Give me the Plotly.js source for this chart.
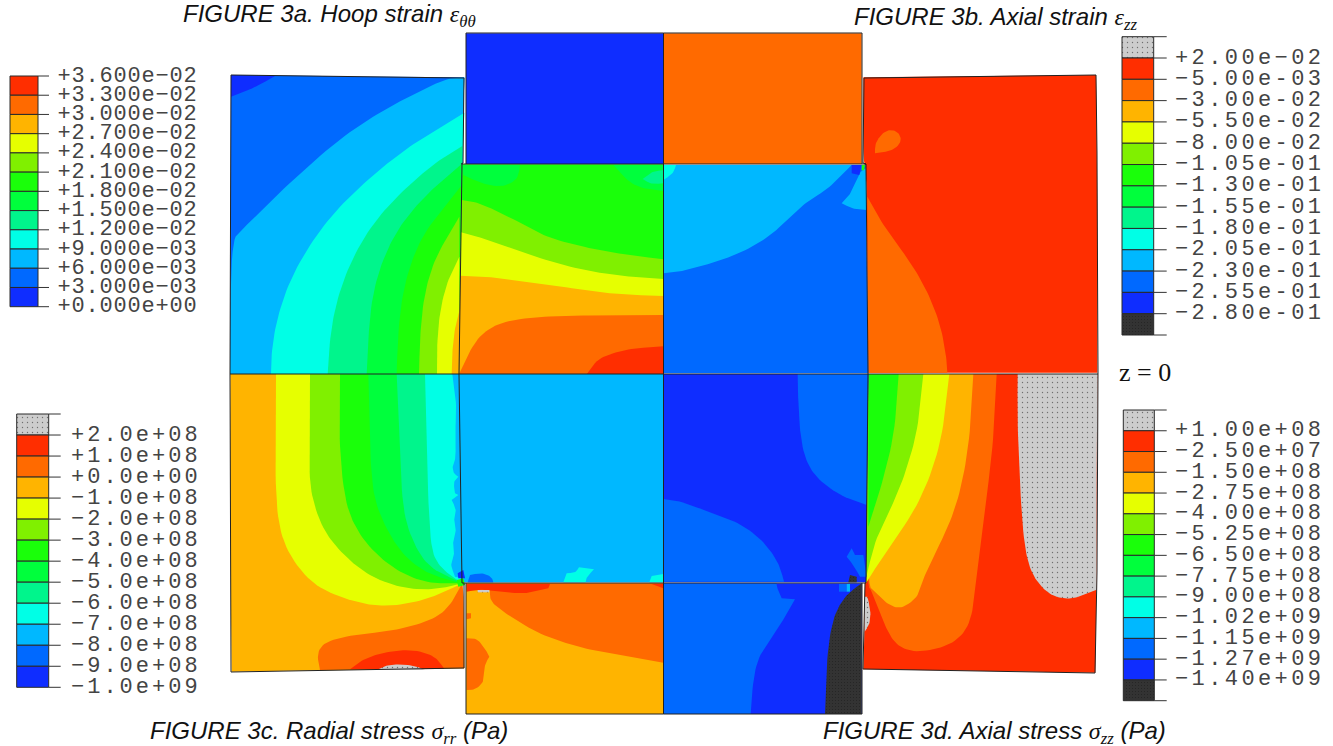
<!DOCTYPE html>
<html><head><meta charset="utf-8">
<script src="https://cdn.plot.ly/plotly-3.0.1.min.js"></script>
<style>html,body{margin:0;padding:0;background:#fff}#c{width:1333px;height:746px}</style>
</head><body><div id="c"></div>
<script>
// Spectrum colours
const R='#ff2e00',O='#ff6a00',A='#ffb400',Y='#e6ff00',L='#80f000',G='#1aff0a',H='#00ff3c',T='#00f58c',C='#00ffe6',S='#00b8ff',B='#0069ff',D='#0f2dff',K='#333333',W='#cdcdcd';

// Legend contents
const hoopLabels=['+3.600e-02','+3.300e-02','+3.000e-02','+2.700e-02','+2.400e-02','+2.100e-02','+1.800e-02','+1.500e-02','+1.200e-02','+9.000e-03','+6.000e-03','+3.000e-03','+0.000e+00'];
const hoopColors=[R,O,A,Y,L,G,H,T,C,S,B,D];
const axialLabels=['+2.00e-02','-5.00e-03','-3.00e-02','-5.50e-02','-8.00e-02','-1.05e-01','-1.30e-01','-1.55e-01','-1.80e-01','-2.05e-01','-2.30e-01','-2.55e-01','-2.80e-01'];
const axialColors=[W,R,O,A,Y,L,G,H,T,C,S,B,D,K];
const radialLabels=['+2.0e+08','+1.0e+08','+0.0e+00','-1.0e+08','-2.0e+08','-3.0e+08','-4.0e+08','-5.0e+08','-6.0e+08','-7.0e+08','-8.0e+08','-9.0e+08','-1.0e+09'];
const radialColors=[W,R,O,A,Y,L,G,H,T,C,S,B,D];
const zzLabels=['+1.00e+08','-2.50e+07','-1.50e+08','-2.75e+08','-4.00e+08','-5.25e+08','-6.50e+08','-7.75e+08','-9.00e+08','-1.02e+09','-1.15e+09','-1.27e+09','-1.40e+09'];
const zzColors=[W,R,O,A,Y,L,G,H,T,C,S,B,D,K];

// Contour regions, as [colour, x,y,x,y,...] (units: 1/3 px inside a crop)
const panelA=[
[B,18,45,240,46,420,50,718,52,712,300,703,942,15,942],
[D,18,45,150,48,85,85,18,110],
[S,718,52,665,55,560,105,450,165,340,240,220,345,120,440,50,510,18,545,15,942,703,942,712,300],
[C,718,158,640,205,560,255,480,315,400,385,320,465,250,560,190,670,155,780,140,870,138,942,703,942,712,300],
[T,712,258,650,295,580,350,500,425,430,510,375,610,335,720,315,830,308,942,703,942],
[H,710,312,640,370,570,440,510,520,465,620,440,720,430,830,425,942,703,942],
[G,708,378,650,450,590,530,550,630,528,730,518,840,515,942,703,942],
[L,703,470,660,540,620,620,595,720,585,830,582,942,703,942],
[Y,703,590,668,660,645,750,636,850,636,942,703,942],
[A,706,740,690,800,682,870,680,942,703,942],
[O,706,870,712,942,703,942]];
const panelB=[
[D,33,25,625,25,625,417,33,417],
[G,22,418,625,418,625,1048,12,1048],
[H,22,420,195,420,190,460,150,485,90,480,25,450],
[H,475,420,625,420,625,498,560,490,520,470],
[T,563,462,590,440,625,435,625,475,590,478],
[L,20,525,60,530,120,555,190,590,260,630,340,655,430,675,520,690,625,703,625,1048,12,1048],
[Y,18,622,70,635,150,665,240,695,340,725,440,745,540,757,625,762,625,1048,12,1048],
[A,15,752,100,755,200,770,320,785,420,800,520,810,625,813,625,1048,12,1048],
[O,12,1048,40,985,75,930,130,895,200,880,300,873,420,871,625,870,625,1048],
[R,395,1048,425,1005,470,985,530,970,625,964,625,1048]];
const panelC=[
[O,10,25,605,25,605,417,10,417],
[B,10,420,617,420,625,1045,10,1045],
[S,10,745,60,740,130,722,200,700,270,670,340,625,390,575,440,530,500,495,545,450,575,420,10,420],
[S,600,440,617,430,620,555,580,552,545,535,570,510,580,480],
[D,575,420,605,420,598,450,575,445],
[C,10,420,48,420,40,445,10,465],
[G,605,420,615,420,612,436,605,436]];
const panelD=[
[R,10,22,708,15,712,250,712,908,25,908,22,380,15,280,10,270],
[O,22,380,60,450,110,520,160,590,205,670,240,760,258,850,262,908,25,908],
[O,45,220,70,185,100,178,122,195,122,220,95,243,45,250]];
const panelE=[
[A,16,12,703,12,707,500,712,640,718,720,718,895,420,900,20,905,15,500],
[Y,153,12,150,320,160,470,195,560,260,640,340,680,430,705,500,708,580,695,650,670,712,640,703,12],
[L,255,12,252,300,260,380,290,470,340,540,420,610,500,645,580,660,650,655,712,640,703,12],
[G,345,12,342,220,360,400,400,490,460,560,530,610,610,640,712,640,703,12],
[H,430,12,435,250,445,380,480,470,530,550,590,600,650,625,712,640,703,12],
[T,515,12,525,270,535,430,565,520,610,590,680,625,712,640,703,12],
[C,600,12,605,250,615,520,635,580,680,620,712,638,703,12],
[S,682,12,695,100,690,200,693,265,682,285,685,310,700,320,685,335,690,370,700,375,680,390,695,420,685,440,695,480,682,510,690,550,675,580,690,620,712,625,703,12],
[O,712,640,680,700,640,740,560,770,480,785,380,795,300,815,275,850,285,900,718,895,718,700],
[R,375,898,410,870,470,848,550,838,610,850,640,870,658,897],
[W,455,900,480,887,520,882,570,887,600,900]];
const panelF=[
[S,13,12,625,12,625,637,20,637],
[B,38,637,45,615,80,608,110,620,115,637],
[C,325,637,335,610,362,608,372,592,417,598,395,620,392,637],
[C,583,637,590,618,625,612,625,637],
[D,8,610,25,600,30,625,10,625],
[G,5,630,25,625,30,645,10,650],
[A,33,640,625,640,625,1032,33,1032],
[O,35,640,625,640,625,878,520,860,430,845,350,825,260,795,190,755,130,715,105,690,105,660,35,660],
[R,35,642,285,642,280,655,210,672,140,665,100,658,60,660,35,665],
[R,590,642,625,642,625,655],
[W,68,660,103,660,103,667,68,667],
[O,35,805,65,805,90,835,103,860,88,885,88,935,60,960,35,960],
[O,35,730,48,730,48,745,35,748]];
const panelG=[
[D,10,12,625,12,618,637,10,637],
[B,413,12,625,12,620,405,560,385,500,350,450,300,425,230,415,120],
[B,10,387,60,393,130,420,220,450,290,495,335,545,360,590,372,635,10,635],
[B,560,560,575,535,585,555,610,555,620,620,600,620,580,585],
[K,565,637,570,615,590,620,590,637],
[D,10,640,605,640,605,1032,10,1032],
[B,10,640,350,640,350,650,365,685,405,688,385,725,350,780,300,850,280,920,272,1032,10,1032],
[B,537,642,560,642,560,665,537,665],
[S,560,642,570,642,570,665,560,665],
[K,495,1032,500,870,515,760,540,700,570,665,605,640,605,1032]];
const panelH=[
[R,25,12,712,12,710,660,706,908,10,898,14,785,14,640],
[W,473,12,712,12,708,660,660,680,620,688,570,675,530,635,505,585,490,500,480,350,472,150],
[O,410,12,400,220,375,420,350,620,340,720,315,790,260,830,170,848,115,830,85,790,65,740,40,670,18,640,25,12],
[A,340,12,330,200,305,350,270,460,215,570,190,625,175,680,125,717,85,705,50,670,18,640,25,12],
[Y,268,12,250,180,215,310,160,430,80,540,18,640,25,12],
[L,190,12,175,170,140,300,100,400,45,510,18,625,25,12],
[G,116,12,105,180,70,330,25,470,25,12],
[W,14,680,22,680,32,720,30,760,14,785]];

// Crop origins for each panel
const origins={A:[225,60],B:[455,25],C:[660,25],D:[860,70],E:[225,370],F:[455,370],G:[660,370],H:[860,370]};

const traces=[];
const base={type:'scatter',mode:'lines',hoverinfo:'skip',showlegend:false};
function fillPoly(xs,ys,color){
  const t=Object.assign({},base,{x:xs.concat(xs[0]),y:ys.concat(ys[0]),fill:'toself',fillcolor:color,line:{width:0,color:color}});
  if(color===W) t.fillpattern={shape:'.',size:5,solidity:0.06,fgcolor:'#707070',bgcolor:W};
  if(color===K) t.fillpattern={shape:'.',size:3,solidity:0.08,fgcolor:'#1c1c1c',bgcolor:K};
  traces.push(t);
}
function roundCurve(pts){
  const n=pts.length;
  let P=pts.map((p,i)=>{
    const a=pts[(i+n-1)%n],b=pts[(i+1)%n];
    const t1=Math.atan2(p[1]-a[1],p[0]-a[0]),t2=Math.atan2(b[1]-p[1],b[0]-p[0]);
    let d=Math.abs(t2-t1);if(d>Math.PI)d=2*Math.PI-d;
    return {x:p[0],y:p[1],c:d>0.95};
  });
  for(let k=0;k<3;k++){
    const Q=[];
    P.forEach((p,i)=>{
      const q=P[(i+1)%P.length];
      if(p.c) Q.push(p); else Q.push({x:.75*p.x+.25*q.x,y:.75*p.y+.25*q.y,c:false});
      if(!q.c) Q.push({x:.25*p.x+.75*q.x,y:.25*p.y+.75*q.y,c:false});
    });
    P=Q;
  }
  return P;
}
function addPanel(regions,o){
  regions.forEach(r=>{
    const pts=[];
    for(let i=1;i<r.length;i+=2)pts.push([o[0]+r[i]/3,o[1]+r[i+1]/3]);
    const P=roundCurve(pts);
    fillPoly(P.map(p=>p.x),P.map(p=>p.y),r[0]);
  });
}
addPanel(panelA,origins.A);addPanel(panelD,origins.D);addPanel(panelE,origins.E);addPanel(panelH,origins.H);
addPanel(panelB,origins.B);addPanel(panelC,origins.C);addPanel(panelF,origins.F);addPanel(panelG,origins.G);

// Mesh outlines
const outlines=[
[[231,75],[305,76],[366,77],[464,78],[463,163],[461,164]],
[[231,75],[230,374],[231,672],[365,670],[464,668],[464,583]],
[[466,164],[466,33],[663.5,33],[862,33],[862,164]],
[[466,583],[466,714],[663.5,714],[862,714],[862,583]],
[[864,78],[1096,75],[1097,153],[1098,374],[1097,572],[1095,673],[863,669],[865,583]],
[[864,78],[863,163],[866,164],[868,374],[866,583]],
[[462,164],[459,374],[462,583]],
[[462,164],[866,164]],
[[230,374],[1098,374]],
[[462,583],[866,583]],
[[663.5,33],[663.5,714]]];
outlines.forEach(p=>traces.push(Object.assign({},base,{x:p.map(q=>q[0]),y:p.map(q=>q[1]),line:{color:'#222',width:1}})));

// Legends
function addLegend(colors,labels,x0,x1,xt,xl,yt,yb,first){
  const n=colors.length,h=(yb-yt)/n;
  colors.forEach((c,i)=>{
    fillPoly([x0,x1,x1,x0],[yt+i*h,yt+i*h,yt+(i+1)*h,yt+(i+1)*h],c);
    traces.push(Object.assign({},base,{x:[x0,x1,x1,x0,x0],y:[yt+i*h,yt+i*h,yt+(i+1)*h,yt+(i+1)*h,yt+i*h],line:{color:'#2a2a2a',width:1}}));
  });
  for(let i=0;i<=n;i++) traces.push(Object.assign({},base,{x:[x1,xt],y:[yt+i*h,yt+i*h],line:{color:'#333',width:1}}));
  traces.push(Object.assign({},base,{mode:'text',x:labels.map(()=>xl),y:labels.map((_,i)=>yt+(i+first)*h),text:labels.map(s=>s.replace('-','\u2212')),textposition:'middle right',textfont:{family:'Liberation Mono',size:22,color:'#444'}}));
}
addLegend(hoopColors,hoopLabels,10,38,49,57.5,76,306.7,0);
addLegend(axialColors,axialLabels,1122,1153.7,1166.7,1175,36.7,335,1);
addLegend(radialColors,radialLabels,16.7,48.7,60.7,71,414,687.3,1);
addLegend(zzColors,zzLabels,1123.3,1154.3,1166.7,1175,410,700.7,1);

const sf='font-family:Liberation Serif;font-style:italic';
const notes=[
{x:181,y:15,text:`<i>FIGURE 3a. Hoop strain </i><span style="${sf}">ε<sub>θθ</sub></span>`},
{x:852,y:18,text:`<i>FIGURE 3b. Axial strain </i><span style="${sf}">ε<sub>zz</sub></span>`},
{x:148,y:732,text:`<i>FIGURE 3c. Radial stress </i><span style="${sf}">σ<sub>rr</sub></span><i> (Pa)</i>`},
{x:821,y:732,text:`<i>FIGURE 3d. Axial stress </i><span style="${sf}">σ<sub>zz</sub></span><i> (Pa)</i>`}
].map(a=>Object.assign(a,{xref:'x',yref:'y',xanchor:'left',yanchor:'middle',showarrow:false,font:{family:'Liberation Sans',size:24,color:'#111'}}));
notes.push({x:1117,y:372,xref:'x',yref:'y',xanchor:'left',yanchor:'middle',showarrow:false,text:'z = 0',font:{family:'Liberation Serif',size:26,color:'#111'}});

const layout={width:1333,height:746,margin:{l:0,r:0,t:0,b:0},paper_bgcolor:'#fff',plot_bgcolor:'#fff',showlegend:false,
 xaxis:{range:[0,1333],visible:false,fixedrange:true},yaxis:{range:[746,0],visible:false,fixedrange:true},annotations:notes};
Plotly.newPlot('c',traces,layout,{displayModeBar:false,staticPlot:true}).then(()=>{
  document.querySelectorAll('.textpoint text').forEach(t=>{
    const n=t.textContent.length;
    t.style.letterSpacing=(n===10?'0.8px':(n===9?'3.4px':'3px'));
  });
});
</script></body></html>
